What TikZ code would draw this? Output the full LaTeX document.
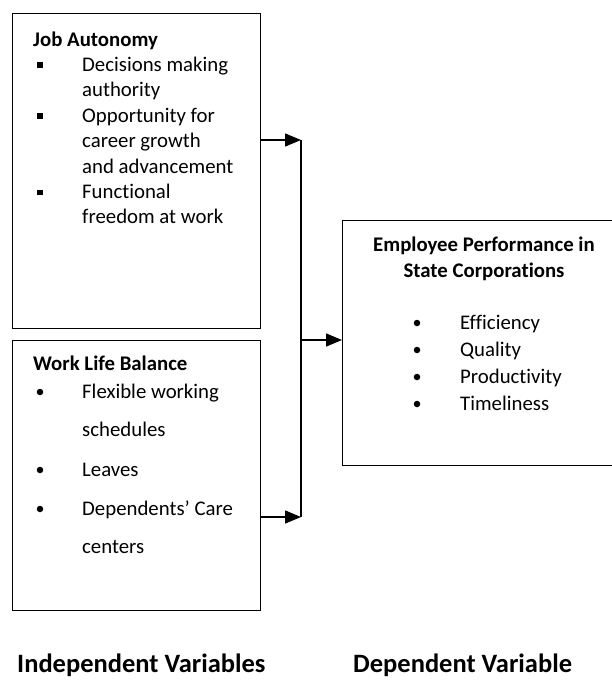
\documentclass[tikz,border=0pt]{standalone}
\usepackage{fontspec}
\setmainfont{Carlito}[Ligatures=NoCommon]
\usetikzlibrary{arrows.meta}
\begin{document}
\begin{tikzpicture}[x=1pt,y=-1pt,
  box/.style={draw, line width=1.3pt, inner sep=0pt, anchor=north west},
  txt/.style={anchor=base west, inner sep=0pt, font=\fontsize{20.8}{25}\selectfont},
  head/.style={txt, font=\fontsize{20.8}{25}\selectfont\bfseries},
  chead/.style={anchor=base, inner sep=0pt, font=\fontsize{20.8}{25}\selectfont\bfseries},
  big/.style={anchor=base west, inner sep=0pt, font=\fontsize{26.5}{30}\selectfont\bfseries},
  sqb/.style={fill, inner sep=0pt, minimum size=5.5pt},
  rdb/.style={circle, fill, inner sep=0pt, minimum size=6.5pt},
  conn/.style={line width=1.5pt},
  arr/.style={line width=1.5pt, -{Triangle[length=16pt,width=13pt]}}
]
\clip (0,0) rectangle (612,680);
\fill[white] (0,0) rectangle (612,680);

% boxes
\node[box, minimum width=248pt, minimum height=315pt] (ja) at (12,13) {};
\node[box, minimum width=248pt, minimum height=270pt] (wl) at (12,340) {};
\node[box, minimum width=280pt, minimum height=245pt] (ep) at (342,220) {};

% Job Autonomy
\node[head] (jah) at (33,46) {Job Autonomy};
\node[sqb] (ja1b) at (40,65) {};
\node[txt] (ja1a) at (82,71.4) {Decisions making};
\node[txt] (ja1b2) at (82,96.8) {authority};
\node[sqb] (ja2b) at (40,116) {};
\node[txt] (ja2a) at (82,122.2) {Opportunity for};
\node[txt] (ja2c) at (82,147.6) {career growth};
\node[txt] (ja2d) at (82,173) {and advancement};
\node[sqb] (ja3b) at (40,192.4) {};
\node[txt] (ja3a) at (82,198.4) {Functional};
\node[txt] (ja3c) at (82,223.8) {freedom at work};

% Work Life Balance
\node[head] (wlh) at (33,370) {Work Life Balance};
\node[rdb] (wl1b) at (40,392) {};
\node[txt] (wl1a) at (82,398) {Flexible working};
\node[txt] (wl1c) at (82,436) {schedules};
\node[rdb] (wl2b) at (40,470) {};
\node[txt] (wl2a) at (82,476) {Leaves};
\node[rdb] (wl3b) at (40,509) {};
\node[txt] (wl3a) at (82,515) {Dependents’ Care};
\node[txt] (wl3c) at (82,553) {centers};

% Employee Performance
\node[chead] (eph1) at (484,251) {Employee Performance in};
\node[chead] (eph2) at (484,277) {State Corporations};
\node[rdb] (ep1b) at (417,323) {};
\node[txt] (ep1) at (460,329) {Efficiency};
\node[rdb] (ep2b) at (417,350) {};
\node[txt] (ep2) at (460,356) {Quality};
\node[rdb] (ep3b) at (417,377) {};
\node[txt] (ep3) at (460,383) {Productivity};
\node[rdb] (ep4b) at (417,404) {};
\node[txt] (ep4) at (460,410) {Timeliness};

% bottom labels
\node[big] (iv) at (17,672) {Independent Variables};
\node[big] (dv) at (353,672) {Dependent Variable};

% connectors
\coordinate (j1) at (301,140);
\coordinate (j2) at (301,517);
\coordinate (j3) at (301,340);
\draw[conn] (j1) -- (j2);
\draw[arr] (ja.east |- j1) -- (j1);
\draw[arr] (wl.east |- j2) -- (j2);
\draw[arr] (j3) -- (ep.west |- j3);
\end{tikzpicture}
\end{document}
